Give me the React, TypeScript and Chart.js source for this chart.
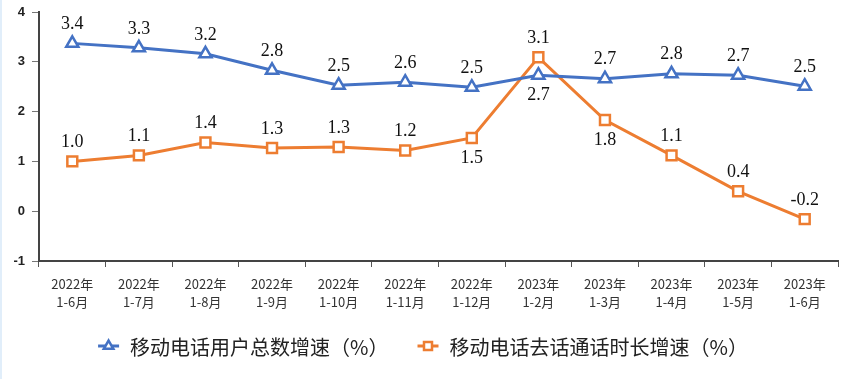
import React, { useEffect, useRef } from "react";
import { Chart, registerables } from "chart.js";

Chart.register(...registerables);

const categories: string[][] = [
  ["2022年", "1-6月"], ["2022年", "1-7月"], ["2022年", "1-8月"], ["2022年", "1-9月"],
  ["2022年", "1-10月"], ["2022年", "1-11月"], ["2022年", "1-12月"], ["2023年", "1-2月"],
  ["2023年", "1-3月"], ["2023年", "1-4月"], ["2023年", "1-5月"], ["2023年", "1-6月"],
];
const usersGrowth = [3.37, 3.28, 3.16, 2.83, 2.53, 2.59, 2.49, 2.73, 2.66, 2.76, 2.73, 2.51];
const callGrowth = [1.0, 1.12, 1.38, 1.27, 1.29, 1.22, 1.47, 3.09, 1.83, 1.12, 0.4, -0.16];
const usersLabelsBelow = [7];
const callLabelsBelow = [6, 8];
const seriesNames = ["移动电话用户总数增速（%）", "移动电话去话通话时长增速（%）"];
const yMin = -1;
const yMax = 4;

const BLUE = "#4472C4";
const ORANGE = "#ED7D31";
const CJK = '"Noto Sans CJK SC", "Noto Sans", sans-serif';

export default function App() {
  const ref = useRef<HTMLCanvasElement | null>(null);
  useEffect(() => {
    document.body.style.margin = "0";
    const canvas = ref.current!;
    const labelPlugin = {
      id: "valueLabels",
      afterDatasetsDraw(chart: any) {
        const ctx = chart.ctx;
        ctx.save();
        ctx.font = '18px "Liberation Serif", "Times New Roman", serif';
        ctx.fillStyle = "#111";
        ctx.textAlign = "center";
        ctx.textBaseline = "middle";
        const belows = [usersLabelsBelow, callLabelsBelow];
        chart.data.datasets.forEach((ds: any, di: number) => {
          const meta = chart.getDatasetMeta(di);
          meta.data.forEach((pt: any, i: number) => {
            const v = ds.data[i] as number;
            const below = belows[di].includes(i);
            const y = below ? pt.y + 20 : pt.y - 19;
            ctx.fillText(v.toFixed(1), pt.x, y);
          });
        });
        ctx.restore();
      },
    };
    const decoPlugin = {
      id: "deco",
      beforeDraw(chart: any) {
        const ctx = chart.ctx;
        ctx.save();
        ctx.fillStyle = "#ffffff";
        ctx.fillRect(0, 0, chart.width, chart.height);
        ctx.fillStyle = "#e1eefa";
        ctx.fillRect(0, 0, 2, chart.height);
        ctx.restore();
      },
      afterDraw(chart: any) {
        const ctx = chart.ctx;
        ctx.save();
        ctx.font = "20px " + CJK;
        const w1 = ctx.measureText(seriesNames[0]).width;
        const w2 = ctx.measureText(seriesNames[1]).width;
        const sym = 21, gapT = 11, gapItems = 29;
        const total = sym + gapT + w1 + gapItems + sym + gapT + w2;
        let x = 423 - total / 2;
        const y = 346;
        const items = [
          { color: BLUE, name: seriesNames[0], w: w1, style: "tri" },
          { color: ORANGE, name: seriesNames[1], w: w2, style: "rect" },
        ];
        items.forEach((it) => {
          ctx.strokeStyle = it.color;
          ctx.lineWidth = 3;
          ctx.beginPath();
          ctx.moveTo(x, y);
          ctx.lineTo(x + sym, y);
          ctx.stroke();
          const cx = x + sym / 2;
          ctx.fillStyle = "#fff";
          ctx.lineWidth = 2.5;
          ctx.beginPath();
          if (it.style === "tri") {
            const r = 5.5;
            ctx.moveTo(cx, y - r);
            ctx.lineTo(cx + r * 0.866, y + r / 2);
            ctx.lineTo(cx - r * 0.866, y + r / 2);
            ctx.closePath();
          } else {
            ctx.rect(cx - 4, y - 4, 8, 8);
          }
          ctx.fill();
          ctx.stroke();
          ctx.fillStyle = "#222";
          ctx.textBaseline = "middle";
          ctx.textAlign = "left";
          ctx.fillText(it.name, x + sym + gapT, y + 1);
          x += sym + gapT + it.w + gapItems;
        });
        ctx.restore();
      },
    };
    const chart = new Chart(canvas, {
      type: "line",
      data: {
        labels: categories,
        datasets: [
          {
            label: seriesNames[0],
            data: usersGrowth,
            borderColor: BLUE,
            backgroundColor: "#ffffff",
            borderWidth: 3,
            pointStyle: "triangle",
            pointRadius: 7,
            pointBorderWidth: 2.5,
            pointBackgroundColor: "#ffffff",
            pointBorderColor: BLUE,
            tension: 0,
          },
          {
            label: seriesNames[1],
            data: callGrowth,
            borderColor: ORANGE,
            backgroundColor: "#ffffff",
            borderWidth: 3,
            pointStyle: "rect",
            pointRadius: 7,
            pointBorderWidth: 2.5,
            pointBackgroundColor: "#ffffff",
            pointBorderColor: ORANGE,
            tension: 0,
          },
        ],
      },
      options: {
        animation: false,
        responsive: false,
        devicePixelRatio: 1,
        layout: { autoPadding: false, padding: { top: 12, right: 3, left: 0, bottom: 0 } },
        plugins: { legend: { display: false }, tooltip: { enabled: false } },
        scales: {
          x: {
            type: "category",
            offset: true,
            grid: { display: true, offset: true, drawOnChartArea: false, drawTicks: true, tickLength: 6, color: "#555", lineWidth: 1 },
            border: { display: true, color: "#444", width: 2 },
            ticks: { color: "#333", font: { family: CJK, size: 13, lineHeight: 1.4 }, padding: 8, maxRotation: 0, autoSkip: false },
            afterFit(scale: any) { scale.height = 118; scale.paddingRight = 0; scale.paddingLeft = 0; },
          },
          y: {
            min: yMin,
            max: yMax,
            grid: { display: true, drawOnChartArea: false, drawTicks: true, tickLength: 7, color: "#777", lineWidth: 1 },
            border: { display: true, color: "#444", width: 2 },
            ticks: { stepSize: 1, color: "#222", font: { family: '"Liberation Sans", Arial, sans-serif', size: 13, weight: "bold" }, padding: 7 },
            afterFit(scale: any) { scale.width = 39; scale.paddingTop = 0; scale.paddingBottom = 0; },
          },
        },
      } as any,
      plugins: [decoPlugin, labelPlugin],
    });
    return () => chart.destroy();
  }, []);
  return (
    <div style={{ position: "absolute", left: 0, top: 0, width: 841, height: 379 }}>
      <canvas ref={ref} width={841} height={379} style={{ width: 841, height: 379, display: "block" }} />
    </div>
  );
}
